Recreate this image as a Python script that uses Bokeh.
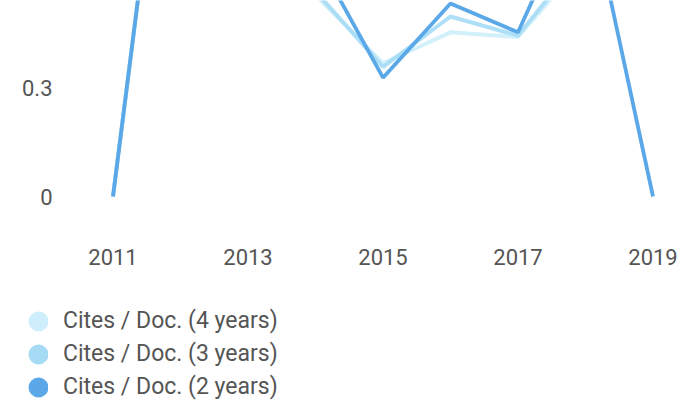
from bokeh.plotting import figure
from bokeh.layouts import column, row
from bokeh.models import ColumnDataSource, Range1d, FixedTicker, Legend, LegendItem
from bokeh.embed import file_html
from bokeh.resources import INLINE

years = [2011, 2012, 2013, 2014, 2015, 2016, 2017, 2018, 2019]
cites_2y = [0.0, 1.48, 1.10, 0.67, 0.33, 0.536, 0.456, 0.87, 0.0]
cites_3y = [0.0, 1.48, 1.10, 0.57, 0.36, 0.50, 0.447, 0.68, float("nan")]
cites_4y = [0.0, 1.48, 1.10, 0.56, 0.37, 0.456, 0.443, 0.66, float("nan")]
x_ticks = [2011, 2013, 2015, 2017, 2019]
y_ticks = [0, 0.3, 0.6, 0.9, 1.2, 1.5]
y_tick_labels = {0: "0", 0.3: "0.3", 0.6: "0.6", 0.9: "0.9", 1.2: "1.2", 1.5: "1.5"}
labels = ["Cites / Doc. (4 years)", "Cites / Doc. (3 years)", "Cites / Doc. (2 years)"]
colors = ["#cdeefa", "#a5dbf5", "#5ba8e8"]

src = ColumnDataSource(dict(year=years, c2=cites_2y, c3=cites_3y, c4=cites_4y))

W, H1, H2 = 695, 280, 127
p = figure(width=W, height=H1, output_backend="svg", toolbar_location=None,
           x_range=Range1d(2010.5037, 2019.5556), y_range=Range1d(-0.1083, 0.5444),
           min_border_left=79, min_border_right=5, min_border_top=0, min_border_bottom=45)
p.outline_line_color = None
p.xgrid.grid_line_color = None
p.ygrid.grid_line_color = None

p.line("year", "c4", source=src, line_color=colors[0], line_width=4, line_alpha=0.9)
p.line("year", "c3", source=src, line_color=colors[1], line_width=4, line_alpha=0.9)
p.line("year", "c2", source=src, line_color=colors[2], line_width=3.8)

for ax in (p.xaxis[0], p.yaxis[0]):
    ax.axis_line_color = None
    ax.major_tick_line_color = None
    ax.minor_tick_line_color = None
    ax.major_tick_out = 0
    ax.major_tick_in = 0
    ax.major_label_text_font = "Roboto"
    ax.major_label_text_font_size = "22px"
    ax.major_label_text_color = "#555555"

p.xaxis[0].ticker = FixedTicker(ticks=x_ticks)
p.xaxis[0].major_label_standoff = 13
p.yaxis[0].ticker = FixedTicker(ticks=y_ticks)
p.yaxis[0].major_label_overrides = y_tick_labels
p.yaxis[0].major_label_standoff = 27

# legend panel
q = figure(width=W, height=H2, output_backend="svg", toolbar_location=None,
           x_range=Range1d(0, 1), y_range=Range1d(0, 1),
           x_axis_location=None, y_axis_location=None,
           min_border_left=0, min_border_right=0, min_border_top=0, min_border_bottom=0)
q.grid.visible = False
q.outline_line_color = None

m = []
for c in colors:
    m.append(q.scatter(x=[-10], y=[-10], marker="circle", size=8, fill_color=c,
                       line_color=c, line_width=12))

legend = Legend(items=[LegendItem(label=labels[i], renderers=[m[i]]) for i in range(3)],
                location=(28, 7), orientation="vertical")
legend.border_line_color = None
legend.background_fill_alpha = 0
legend.padding = 0
legend.margin = 0
legend.spacing = 6
legend.glyph_width = 20
legend.glyph_height = 26
legend.label_height = 26
legend.label_standoff = 15
legend.label_text_font = "Roboto"
legend.label_text_font_size = "23px"
legend.label_text_color = "#555555"
legend.label_text_baseline = "middle"
q.add_layout(legend, "center")

layout = column(p, row(q, spacing=0), spacing=0)
open("out.html", "w").write(file_html(layout, INLINE))
